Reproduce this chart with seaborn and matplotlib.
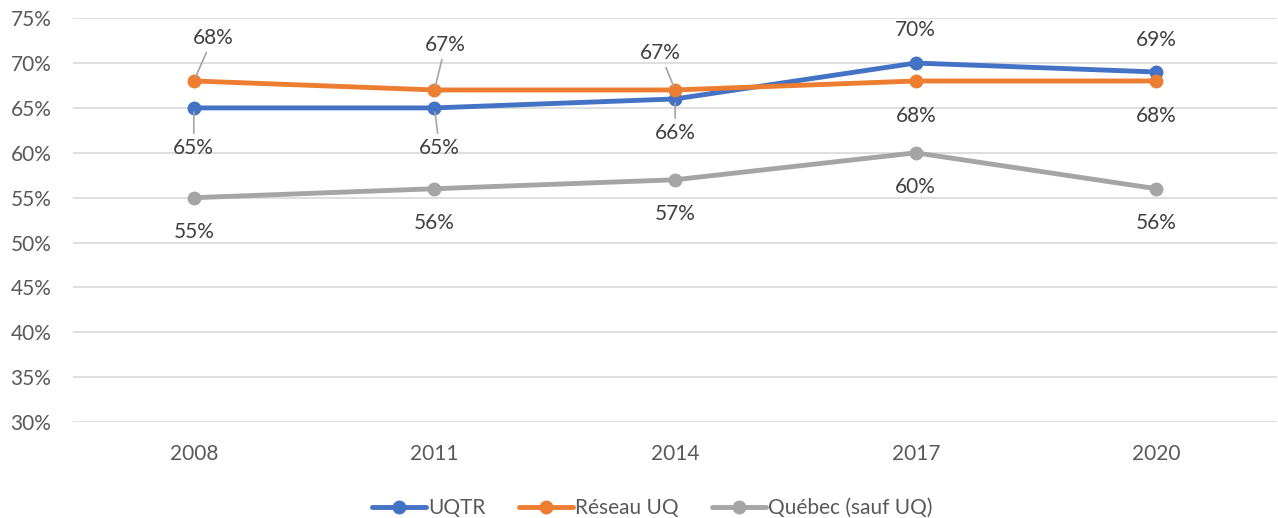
import pandas as pd
import matplotlib.pyplot as plt
import seaborn as sns

years = ["2008", "2011", "2014", "2017", "2020"]
uqtr = [65, 65, 66, 70, 69]
reseau_uq = [68, 67, 67, 68, 68]
quebec = [55, 56, 57, 60, 56]
series_names = ["UQTR", "Réseau UQ", "Québec (sauf UQ)"]

colors = ["#4472C4", "#ED7D31", "#A5A5A5"]
# label offsets in pixels (dx, dy) and whether a leader line is drawn
label_pos = [
    [(0, -40, True), (5, -40, True), (0, -34, True), (0, 33, False), (0, 32, False)],
    [(19, 43, True), (11, 45, True), (-15, 37, True), (0, -35, False), (0, -35, False)],
    [(0, -34, False), (0, -34, False), (0, -34, False), (0, -34, False), (0, -34, False)],
]

df = pd.DataFrame({
    "year": years * 3,
    "value": uqtr + reseau_uq + quebec,
    "serie": [s for s in series_names for _ in years],
})

sns.set_style("white")
plt.rcParams["font.family"] = ["Lato", "DejaVu Sans"]

fig = plt.figure(figsize=(12.78, 5.18), dpi=100)
ax = fig.add_axes([0.0575, 0.185, 0.9415, 0.78])

sns.lineplot(data=df, x="year", y="value", hue="serie", palette=colors,
             marker="o", markersize=10, markeredgewidth=0, linewidth=3.5,
             sort=False, ax=ax, zorder=3)

for i, (name, vals) in enumerate(zip(series_names, [uqtr, reseau_uq, quebec])):
    for j, v in enumerate(vals):
        dx, dy, leader = label_pos[i][j]
        arrow = dict(arrowstyle="-", color="#A5A5A5", lw=1.2, shrinkA=1, shrinkB=3) if leader else None
        ax.annotate(f"{v}%", (years[j], v), xytext=(dx, dy), textcoords="offset pixels",
                    ha="center", va="center", fontsize=15, color="#404040",
                    arrowprops=arrow, zorder=4)

ax.set_ylim(30, 75)
ax.set_xlim(-0.5, len(years) - 0.5)
ax.set_yticks(range(30, 76, 5))
ax.set_yticklabels([f"{t}%" for t in range(30, 76, 5)])
ax.yaxis.grid(True, color="#D9D9D9", linewidth=1.2)
ax.set_axisbelow(True)
for s in ax.spines.values():
    s.set_visible(False)
ax.tick_params(axis="both", length=0, labelsize=15, labelcolor="#595959")
ax.tick_params(axis="x", pad=16)
ax.tick_params(axis="y", pad=16)
ax.set_xlabel("")
ax.set_ylabel("")

handles, labels = ax.get_legend_handles_labels()
ax.legend(handles, labels, loc="center", bbox_to_anchor=(0.481, -0.213), ncol=3,
          frameon=False, fontsize=15, labelcolor="#595959", handlelength=2.6,
          handletextpad=0.1, columnspacing=1.6, borderpad=0)

fig.savefig("out.png", dpi=100)
